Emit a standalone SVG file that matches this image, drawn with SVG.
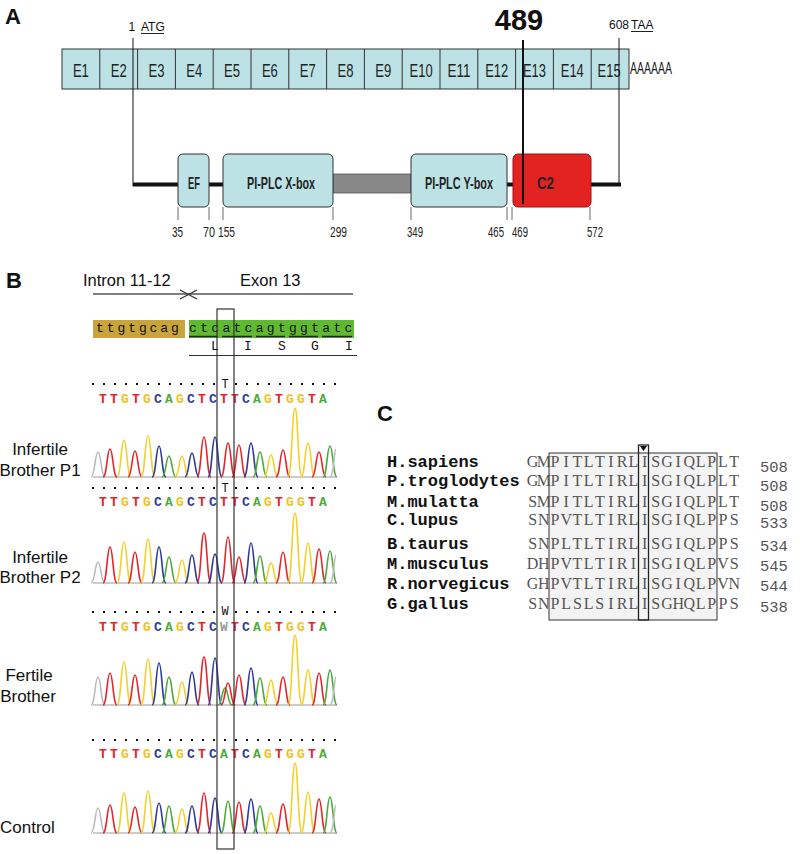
<svg xmlns="http://www.w3.org/2000/svg" xmlns:xlink="http://www.w3.org/1999/xlink" width="800" height="854" viewBox="0 0 800 854">
<style>
.lbl{font-family:"Liberation Sans",Arial,sans-serif;font-weight:bold;font-size:22px;fill:#111}
.ex{font-family:"Liberation Sans",Arial,sans-serif;font-size:19px;fill:#222}
.dm{font-family:"Liberation Sans",Arial,sans-serif;font-size:17px;font-weight:bold;fill:#222}
.nm{font-family:"Liberation Sans",Arial,sans-serif;font-size:14px;fill:#222}
.sans{font-family:"Liberation Sans",Arial,sans-serif;fill:#111}
.mono{font-family:"Liberation Mono","Courier New",monospace;fill:#111}
.cl{font-family:"Liberation Mono","Courier New",monospace;font-weight:bold;font-size:13px;text-anchor:middle}
.sp{font-family:"Liberation Mono","Courier New",monospace;font-weight:bold;font-size:17px;fill:#111}
.sq{font-family:"Liberation Serif","Times New Roman",serif;font-size:16px;fill:#555;text-anchor:middle}
.nb{font-family:"Liberation Mono","Courier New",monospace;font-size:15.5px;fill:#555}
.exon{fill:#bde2e5;stroke:#333;stroke-width:1}
.dbox{fill:#bde2e5;stroke:#333;stroke-width:1}
.fT{fill:#e3262b}.fG{fill:#f0c21e}.fC{fill:#2c3a9c}.fA{fill:#4aab3a}.fN{fill:#999}
.t{stroke:#e3262b}.g{stroke:#f5cf2c}.c{stroke:#2c3a9c}.a{stroke:#4aab3a}.n{stroke:#bbb}
use{stroke-width:1.6}
.dots{stroke:#111;stroke-width:2;stroke-dasharray:2 9}
.base{stroke:#999;stroke-width:1}
</style>
<defs>
<path id="pk" d="M-7 0C-3 0 -3 -1 0 -1C3 -1 3 0 7 0" fill="none" vector-effect="non-scaling-stroke"/>
<path id="hk" d="M-7 0C-3 0 -3 -1 -1 -1" fill="none" vector-effect="non-scaling-stroke"/>
<clipPath id="gclip"><rect x="93" y="318" width="92" height="22"/></clipPath>
</defs>

<!-- Panel A -->
<g id="panelA">
<text class="lbl" x="5" y="24">A</text>
<g id="exon-bar">
<rect class="exon" x="62" y="49" width="567" height="40"/>
<g stroke="#333" stroke-width="1">
<line x1="99.8" y1="49" x2="99.8" y2="89"/><line x1="137.6" y1="49" x2="137.6" y2="89"/><line x1="175.4" y1="49" x2="175.4" y2="89"/><line x1="213.2" y1="49" x2="213.2" y2="89"/><line x1="251" y1="49" x2="251" y2="89"/><line x1="288.8" y1="49" x2="288.8" y2="89"/><line x1="326.6" y1="49" x2="326.6" y2="89"/><line x1="364.4" y1="49" x2="364.4" y2="89"/><line x1="402.2" y1="49" x2="402.2" y2="89"/><line x1="440" y1="49" x2="440" y2="89"/><line x1="477.8" y1="49" x2="477.8" y2="89"/><line x1="515.6" y1="49" x2="515.6" y2="89"/><line x1="553.4" y1="49" x2="553.4" y2="89"/><line x1="591.2" y1="49" x2="591.2" y2="89"/>
</g>
<g class="ex">
<text x="72.9" y="77" textLength="16" lengthAdjust="spacingAndGlyphs">E1</text>
<text x="110.7" y="77" textLength="16" lengthAdjust="spacingAndGlyphs">E2</text>
<text x="148.5" y="77" textLength="16" lengthAdjust="spacingAndGlyphs">E3</text>
<text x="186.3" y="77" textLength="16" lengthAdjust="spacingAndGlyphs">E4</text>
<text x="224.1" y="77" textLength="16" lengthAdjust="spacingAndGlyphs">E5</text>
<text x="261.9" y="77" textLength="16" lengthAdjust="spacingAndGlyphs">E6</text>
<text x="299.7" y="77" textLength="16" lengthAdjust="spacingAndGlyphs">E7</text>
<text x="337.5" y="77" textLength="16" lengthAdjust="spacingAndGlyphs">E8</text>
<text x="375.3" y="77" textLength="16" lengthAdjust="spacingAndGlyphs">E9</text>
<text x="409.6" y="77" textLength="23" lengthAdjust="spacingAndGlyphs">E10</text>
<text x="447.4" y="77" textLength="23" lengthAdjust="spacingAndGlyphs">E11</text>
<text x="485.2" y="77" textLength="23" lengthAdjust="spacingAndGlyphs">E12</text>
<text x="523" y="77" textLength="23" lengthAdjust="spacingAndGlyphs">E13</text>
<text x="560.8" y="77" textLength="23" lengthAdjust="spacingAndGlyphs">E14</text>
<text x="597.6" y="77" textLength="23" lengthAdjust="spacingAndGlyphs">E15</text>
</g>
<text class="sans" x="630" y="74" font-size="17" textLength="42" lengthAdjust="spacingAndGlyphs">AAAAAA</text>
</g>
<g id="markers">
<text class="sans" x="128.5" y="31" font-size="12">1</text>
<text class="sans" x="141" y="31" font-size="12">ATG</text>
<line x1="141" y1="33.5" x2="164" y2="33.5" stroke="#222" stroke-width="1"/>
<text class="sans" x="609" y="29" font-size="12">608</text>
<text class="sans" x="631" y="29" font-size="12">TAA</text>
<line x1="631" y1="31.5" x2="653" y2="31.5" stroke="#222" stroke-width="1"/>
<text class="sans" x="519" y="30" font-size="29" font-weight="bold" text-anchor="middle">489</text>
</g>
<g id="domains">
<line x1="133" y1="184.5" x2="621" y2="184.5" stroke="#111" stroke-width="4"/>
<rect x="333" y="174" width="78" height="19" fill="#888" stroke="#555" stroke-width="0.8"/>
<g id="EF"><rect class="dbox" x="178" y="154" width="31" height="53" rx="5"/><text class="dm" x="188" y="189" textLength="12" lengthAdjust="spacingAndGlyphs">EF</text></g>
<g id="Xbox"><rect class="dbox" x="223" y="154" width="110" height="53" rx="5"/><text class="dm" x="247" y="189" textLength="68" lengthAdjust="spacingAndGlyphs">PI-PLC X-box</text></g>
<g id="Ybox"><rect class="dbox" x="411" y="154" width="96" height="53" rx="5"/><text class="dm" x="425" y="189" textLength="68" lengthAdjust="spacingAndGlyphs">PI-PLC Y-box</text></g>
<g id="C2"><rect x="513" y="154" width="78" height="53" rx="5" fill="#e32222" stroke="#a01010" stroke-width="1"/><text class="dm" x="537" y="189" textLength="17" lengthAdjust="spacingAndGlyphs">C2</text></g>
</g>
<g id="guides" stroke="#111">
<line x1="133" y1="38" x2="133" y2="186" stroke-width="1"/>
<line x1="619" y1="38" x2="619" y2="186" stroke-width="1"/>
<line x1="523" y1="40" x2="523" y2="204" stroke-width="2"/>
<g stroke="#444" stroke-width="0.8">
<line x1="178" y1="207" x2="178" y2="220"/><line x1="209" y1="207" x2="209" y2="220"/><line x1="223" y1="207" x2="223" y2="220"/><line x1="333" y1="207" x2="333" y2="220"/><line x1="411" y1="207" x2="411" y2="220"/><line x1="507" y1="207" x2="507" y2="220"/><line x1="512" y1="207" x2="512" y2="220"/><line x1="590" y1="207" x2="590" y2="220"/>
</g>
</g>
<g id="positions" class="nm">
<text x="172" y="237" textLength="11" lengthAdjust="spacingAndGlyphs">35</text>
<text x="203" y="237" textLength="12" lengthAdjust="spacingAndGlyphs">70</text>
<text x="218" y="237" textLength="17" lengthAdjust="spacingAndGlyphs">155</text>
<text x="330" y="237" textLength="17" lengthAdjust="spacingAndGlyphs">299</text>
<text x="407" y="237" textLength="16" lengthAdjust="spacingAndGlyphs">349</text>
<text x="488" y="237" textLength="16" lengthAdjust="spacingAndGlyphs">465</text>
<text x="512" y="237" textLength="16" lengthAdjust="spacingAndGlyphs">469</text>
<text x="587" y="237" textLength="16" lengthAdjust="spacingAndGlyphs">572</text>
</g>
</g>

<!-- Panel B -->
<g id="panelB">
<text class="lbl" x="6" y="288">B</text>
<text class="sans" x="83" y="286" font-size="16.5">Intron 11-12</text>
<text class="sans" x="240" y="286" font-size="16.5">Exon 13</text>
<line x1="93" y1="294" x2="353" y2="294" stroke="#555" stroke-width="1.5"/>
<g stroke="#333" stroke-width="1.2"><line x1="180" y1="290" x2="197" y2="299"/><line x1="180" y1="299" x2="197" y2="290"/></g>
<rect x="93" y="320" width="92" height="18" fill="#c9a43a"/>
<rect x="189" y="320" width="165" height="18" fill="#5fba32"/>
<text class="mono" font-size="13" text-anchor="middle" y="332" clip-path="url(#gclip)" x="89.3 100 110.7 121.4 132.1 142.8 153.5 164.2 174.9">tttgtgcag</text>
<text class="mono" font-size="13" text-anchor="middle" y="332" x="193 204.1 215.2 226.3 237.4 248.5 259.6 270.7 281.8 292.9 304 315.1 326.2 337.3 348.4">ctcatcagtggtatc</text>
<g stroke="#222" stroke-width="1.5">
<line x1="189" y1="336.5" x2="218" y2="336.5"/><line x1="222" y1="336.5" x2="252" y2="336.5"/><line x1="256" y1="336.5" x2="285" y2="336.5"/><line x1="289" y1="336.5" x2="318" y2="336.5"/><line x1="322" y1="336.5" x2="352" y2="336.5"/>
</g>
<text class="mono" font-size="13" text-anchor="middle" y="350" x="215 248 282 315 349">LISGI</text>
<line x1="189" y1="355.5" x2="357" y2="355.5" stroke="#333" stroke-width="1"/>

<!-- trace 1 -->
<g id="trace1">
<line class="dots" x1="92" y1="384" x2="216" y2="384"/>
<line class="dots" x1="235" y1="384" x2="337" y2="384"/>
<text class="mono" font-size="12" text-anchor="middle" x="225" y="388">T</text>
<text class="cl" y="403"><tspan x="103" class="fT">T</tspan><tspan x="114" class="fT">T</tspan><tspan x="125" class="fG">G</tspan><tspan x="136" class="fT">T</tspan><tspan x="147" class="fG">G</tspan><tspan x="158" class="fC">C</tspan><tspan x="169" class="fA">A</tspan><tspan x="180" class="fG">G</tspan><tspan x="191" class="fC">C</tspan><tspan x="202" class="fT">T</tspan><tspan x="213" class="fC">C</tspan><tspan x="224" class="fT">T</tspan><tspan x="235" class="fT">T</tspan><tspan x="246" class="fC">C</tspan><tspan x="257" class="fA">A</tspan><tspan x="268" class="fG">G</tspan><tspan x="279" class="fT">T</tspan><tspan x="290" class="fG">G</tspan><tspan x="301" class="fG">G</tspan><tspan x="312" class="fT">T</tspan><tspan x="323" class="fA">A</tspan></text>
<line class="base" x1="93" y1="477" x2="336" y2="477"/>
<use href="#pk" class="n" transform="translate(98 477) scale(1 25)"/>
<use href="#pk" class="t" transform="translate(110 477) scale(1 28)"/>
<use href="#pk" class="g" transform="translate(124 477) scale(1 37)"/>
<use href="#pk" class="t" transform="translate(135 477) scale(1 26)"/>
<use href="#pk" class="g" transform="translate(148 477) scale(1 41)"/>
<use href="#pk" class="c" transform="translate(159 477) scale(1 31)"/>
<use href="#pk" class="a" transform="translate(169 477) scale(1 21)"/>
<use href="#pk" class="g" transform="translate(182 477) scale(1 21)"/>
<use href="#pk" class="c" transform="translate(192 477) scale(1 24)"/>
<use href="#pk" class="t" transform="translate(204 477) scale(1 40)"/>
<use href="#pk" class="c" transform="translate(215 477) scale(1 40)"/>
<use href="#pk" class="t" transform="translate(228 477) scale(1 34)"/>
<use href="#pk" class="t" transform="translate(239 477) scale(1 32)"/>
<use href="#pk" class="c" transform="translate(251 477) scale(1 34)"/>
<use href="#pk" class="a" transform="translate(260 477) scale(1 25)"/>
<use href="#pk" class="g" transform="translate(271 477) scale(1 22)"/>
<use href="#pk" class="t" transform="translate(283 477) scale(1 27)"/>
<use href="#pk" class="g" transform="translate(295 477) scale(1 69)"/>
<use href="#pk" class="g" transform="translate(308 477) scale(1 34)"/>
<use href="#pk" class="t" transform="translate(319 477) scale(1 25)"/>
<use href="#pk" class="a" transform="translate(330 477) scale(1 31)"/>
<use href="#hk" class="n" transform="translate(337 477) scale(1 28)"/>
</g>
<text class="sans" font-size="17" text-anchor="middle" x="40" y="455">Infertile</text>
<text class="sans" font-size="17" text-anchor="middle" x="40" y="476">Brother P1</text>

<!-- trace 2 -->
<g id="trace2">
<line class="dots" x1="92" y1="488" x2="216" y2="488"/>
<line class="dots" x1="235" y1="488" x2="337" y2="488"/>
<text class="mono" font-size="12" text-anchor="middle" x="225" y="492">T</text>
<text class="cl" y="506"><tspan x="103" class="fT">T</tspan><tspan x="114" class="fT">T</tspan><tspan x="125" class="fG">G</tspan><tspan x="136" class="fT">T</tspan><tspan x="147" class="fG">G</tspan><tspan x="158" class="fC">C</tspan><tspan x="169" class="fA">A</tspan><tspan x="180" class="fG">G</tspan><tspan x="191" class="fC">C</tspan><tspan x="202" class="fT">T</tspan><tspan x="213" class="fC">C</tspan><tspan x="224" class="fT">T</tspan><tspan x="235" class="fT">T</tspan><tspan x="246" class="fC">C</tspan><tspan x="257" class="fA">A</tspan><tspan x="268" class="fG">G</tspan><tspan x="279" class="fT">T</tspan><tspan x="290" class="fG">G</tspan><tspan x="301" class="fG">G</tspan><tspan x="312" class="fT">T</tspan><tspan x="323" class="fA">A</tspan></text>
<line class="base" x1="93" y1="583" x2="336" y2="583"/>
<use href="#pk" class="n" transform="translate(98 583) scale(1 21)"/>
<use href="#pk" class="t" transform="translate(110 583) scale(1 36)"/>
<use href="#pk" class="g" transform="translate(124 583) scale(1 41)"/>
<use href="#pk" class="t" transform="translate(135 583) scale(1 31)"/>
<use href="#pk" class="g" transform="translate(148 583) scale(1 44)"/>
<use href="#pk" class="c" transform="translate(159 583) scale(1 36)"/>
<use href="#pk" class="a" transform="translate(169 583) scale(1 26)"/>
<use href="#pk" class="g" transform="translate(182 583) scale(1 23)"/>
<use href="#pk" class="c" transform="translate(192 583) scale(1 28)"/>
<use href="#pk" class="t" transform="translate(204 583) scale(1 50)"/>
<use href="#pk" class="c" transform="translate(215 583) scale(1 29)"/>
<use href="#pk" class="t" transform="translate(228 583) scale(1 46)"/>
<use href="#pk" class="t" transform="translate(239 583) scale(1 26)"/>
<use href="#pk" class="c" transform="translate(251 583) scale(1 40)"/>
<use href="#pk" class="a" transform="translate(260 583) scale(1 27)"/>
<use href="#pk" class="g" transform="translate(271 583) scale(1 20)"/>
<use href="#pk" class="t" transform="translate(283 583) scale(1 31)"/>
<use href="#pk" class="g" transform="translate(295 583) scale(1 70)"/>
<use href="#pk" class="g" transform="translate(308 583) scale(1 40)"/>
<use href="#pk" class="t" transform="translate(319 583) scale(1 34)"/>
<use href="#pk" class="a" transform="translate(330 583) scale(1 32)"/>
<use href="#hk" class="n" transform="translate(337 583) scale(1 28)"/>
</g>
<text class="sans" font-size="17" text-anchor="middle" x="40" y="563">Infertile</text>
<text class="sans" font-size="17" text-anchor="middle" x="40" y="583">Brother P2</text>

<!-- trace 3 -->
<g id="trace3">
<line class="dots" x1="92" y1="612" x2="216" y2="612"/>
<line class="dots" x1="235" y1="612" x2="337" y2="612"/>
<text class="mono" font-size="12" text-anchor="middle" x="225" y="615" fill="#555">W</text>
<text class="cl" y="631"><tspan x="103" class="fT">T</tspan><tspan x="114" class="fT">T</tspan><tspan x="125" class="fG">G</tspan><tspan x="136" class="fT">T</tspan><tspan x="147" class="fG">G</tspan><tspan x="158" class="fC">C</tspan><tspan x="169" class="fA">A</tspan><tspan x="180" class="fG">G</tspan><tspan x="191" class="fC">C</tspan><tspan x="202" class="fT">T</tspan><tspan x="213" class="fC">C</tspan><tspan x="224" class="fN">W</tspan><tspan x="235" class="fT">T</tspan><tspan x="246" class="fC">C</tspan><tspan x="257" class="fA">A</tspan><tspan x="268" class="fG">G</tspan><tspan x="279" class="fT">T</tspan><tspan x="290" class="fG">G</tspan><tspan x="301" class="fG">G</tspan><tspan x="312" class="fT">T</tspan><tspan x="323" class="fA">A</tspan></text>
<line class="base" x1="93" y1="705" x2="336" y2="705"/>
<use href="#pk" class="n" transform="translate(98 705) scale(1 28)"/>
<use href="#pk" class="t" transform="translate(110 705) scale(1 32)"/>
<use href="#pk" class="g" transform="translate(124 705) scale(1 43)"/>
<use href="#pk" class="t" transform="translate(135 705) scale(1 30)"/>
<use href="#pk" class="g" transform="translate(148 705) scale(1 46)"/>
<use href="#pk" class="c" transform="translate(159 705) scale(1 42)"/>
<use href="#pk" class="a" transform="translate(169 705) scale(1 28)"/>
<use href="#pk" class="g" transform="translate(182 705) scale(1 23)"/>
<use href="#pk" class="c" transform="translate(192 705) scale(1 33)"/>
<use href="#pk" class="t" transform="translate(204 705) scale(1 48)"/>
<use href="#pk" class="c" transform="translate(215 705) scale(1 47)"/>
<use href="#pk" class="a" transform="translate(225 705) scale(1 17)"/>
<use href="#pk" class="t" transform="translate(228 705) scale(1 22)"/>
<use href="#pk" class="t" transform="translate(239 705) scale(1 30)"/>
<use href="#pk" class="c" transform="translate(251 705) scale(1 37)"/>
<use href="#pk" class="a" transform="translate(260 705) scale(1 27)"/>
<use href="#pk" class="g" transform="translate(271 705) scale(1 25)"/>
<use href="#pk" class="t" transform="translate(283 705) scale(1 28)"/>
<use href="#pk" class="g" transform="translate(295 705) scale(1 70)"/>
<use href="#pk" class="g" transform="translate(308 705) scale(1 35)"/>
<use href="#pk" class="t" transform="translate(319 705) scale(1 32)"/>
<use href="#pk" class="a" transform="translate(330 705) scale(1 35)"/>
<use href="#hk" class="n" transform="translate(337 705) scale(1 28)"/>
</g>
<text class="sans" font-size="17" text-anchor="middle" x="29" y="681">Fertile</text>
<text class="sans" font-size="17" text-anchor="middle" x="28" y="702">Brother</text>

<!-- trace 4 -->
<g id="trace4">
<line class="dots" x1="92" y1="740" x2="337" y2="740"/>
<text class="cl" y="758"><tspan x="103" class="fT">T</tspan><tspan x="114" class="fT">T</tspan><tspan x="125" class="fG">G</tspan><tspan x="136" class="fT">T</tspan><tspan x="147" class="fG">G</tspan><tspan x="158" class="fC">C</tspan><tspan x="169" class="fA">A</tspan><tspan x="180" class="fG">G</tspan><tspan x="191" class="fC">C</tspan><tspan x="202" class="fT">T</tspan><tspan x="213" class="fC">C</tspan><tspan x="224" class="fA">A</tspan><tspan x="235" class="fT">T</tspan><tspan x="246" class="fC">C</tspan><tspan x="257" class="fA">A</tspan><tspan x="268" class="fG">G</tspan><tspan x="279" class="fT">T</tspan><tspan x="290" class="fG">G</tspan><tspan x="301" class="fG">G</tspan><tspan x="312" class="fT">T</tspan><tspan x="323" class="fA">A</tspan></text>
<line class="base" x1="93" y1="833" x2="336" y2="833"/>
<use href="#pk" class="n" transform="translate(98 833) scale(1 25)"/>
<use href="#pk" class="t" transform="translate(110 833) scale(1 28)"/>
<use href="#pk" class="g" transform="translate(124 833) scale(1 40)"/>
<use href="#pk" class="t" transform="translate(135 833) scale(1 26)"/>
<use href="#pk" class="g" transform="translate(148 833) scale(1 42)"/>
<use href="#pk" class="c" transform="translate(159 833) scale(1 30)"/>
<use href="#pk" class="a" transform="translate(169 833) scale(1 27)"/>
<use href="#pk" class="g" transform="translate(182 833) scale(1 24)"/>
<use href="#pk" class="c" transform="translate(192 833) scale(1 27)"/>
<use href="#pk" class="t" transform="translate(204 833) scale(1 40)"/>
<use href="#pk" class="c" transform="translate(215 833) scale(1 35)"/>
<use href="#pk" class="a" transform="translate(228 833) scale(1 32)"/>
<use href="#pk" class="t" transform="translate(239 833) scale(1 31)"/>
<use href="#pk" class="c" transform="translate(251 833) scale(1 34)"/>
<use href="#pk" class="a" transform="translate(260 833) scale(1 27)"/>
<use href="#pk" class="g" transform="translate(271 833) scale(1 20)"/>
<use href="#pk" class="t" transform="translate(283 833) scale(1 29)"/>
<use href="#pk" class="g" transform="translate(295 833) scale(1 70)"/>
<use href="#pk" class="g" transform="translate(308 833) scale(1 41)"/>
<use href="#pk" class="t" transform="translate(319 833) scale(1 34)"/>
<use href="#pk" class="a" transform="translate(330 833) scale(1 36)"/>
<use href="#hk" class="n" transform="translate(337 833) scale(1 28)"/>
</g>
<text class="sans" font-size="17" x="0" y="833">Control</text>

<rect x="217" y="309" width="17" height="540" fill="none" stroke="#333" stroke-width="1.2"/>
</g>

<!-- Panel C -->
<g id="panelC">
<text class="lbl" x="377" y="421">C</text>
<rect x="549" y="453" width="168" height="167" fill="#f3f3f3" stroke="#333" stroke-width="1"/>
<g class="sp">
<text x="387" y="467">H.sapiens</text>
<text x="387" y="486">P.troglodytes</text>
<text x="387" y="507">M.mulatta</text>
<text x="387" y="525">C.lupus</text>
<text x="387" y="549">B.taurus</text>
<text x="387" y="569">M.musculus</text>
<text x="387" y="589">R.norvegicus</text>
<text x="387" y="609">G.gallus</text>
</g>
<g class="sq">
<text y="467" x="532.6 543.8 555 566.2 577.4 588.6 599.8 611 622.2 633.4 644.6 655.8 667 678.2 689.4 700.6 711.8 723 734.2">GMPITLTIRLISGIQLPLT</text>
<text y="486" x="532.6 543.8 555 566.2 577.4 588.6 599.8 611 622.2 633.4 644.6 655.8 667 678.2 689.4 700.6 711.8 723 734.2">GMPITLTIRLISGIQLPLT</text>
<text y="507" x="532.6 543.8 555 566.2 577.4 588.6 599.8 611 622.2 633.4 644.6 655.8 667 678.2 689.4 700.6 711.8 723 734.2">SMPITLTIRLISGIQLPLT</text>
<text y="525" x="532.6 543.8 555 566.2 577.4 588.6 599.8 611 622.2 633.4 644.6 655.8 667 678.2 689.4 700.6 711.8 723 734.2">SNPVTLTIRLISGIQLPPS</text>
<text y="549" x="532.6 543.8 555 566.2 577.4 588.6 599.8 611 622.2 633.4 644.6 655.8 667 678.2 689.4 700.6 711.8 723 734.2">SNPLTLTIRLISGIQLPPS</text>
<text y="569" x="532.6 543.8 555 566.2 577.4 588.6 599.8 611 622.2 633.4 644.6 655.8 667 678.2 689.4 700.6 711.8 723 734.2">DHPVTLTIRIISGIQLPVS</text>
<text y="589" x="532.6 543.8 555 566.2 577.4 588.6 599.8 611 622.2 633.4 644.6 655.8 667 678.2 689.4 700.6 711.8 723 734.2">GHPVTLTIRLISGIQLPVN</text>
<text y="609" x="532.6 543.8 555 566.2 577.4 588.6 599.8 611 622.2 633.4 644.6 655.8 667 678.2 689.4 700.6 711.8 723 734.2">SNPLSLSIRLISGHQLPPS</text>
</g>
<g class="nb">
<text x="760" y="472">508</text>
<text x="760" y="491">508</text>
<text x="760" y="511">508</text>
<text x="760" y="528">533</text>
<text x="760" y="551">534</text>
<text x="760" y="571">545</text>
<text x="760" y="591">544</text>
<text x="760" y="612">538</text>
</g>
<rect x="638.5" y="445" width="10" height="175" fill="none" stroke="#222" stroke-width="1.3"/>
<polygon points="640,446 647,446 643.5,451" fill="#111"/>
</g>
</svg>
